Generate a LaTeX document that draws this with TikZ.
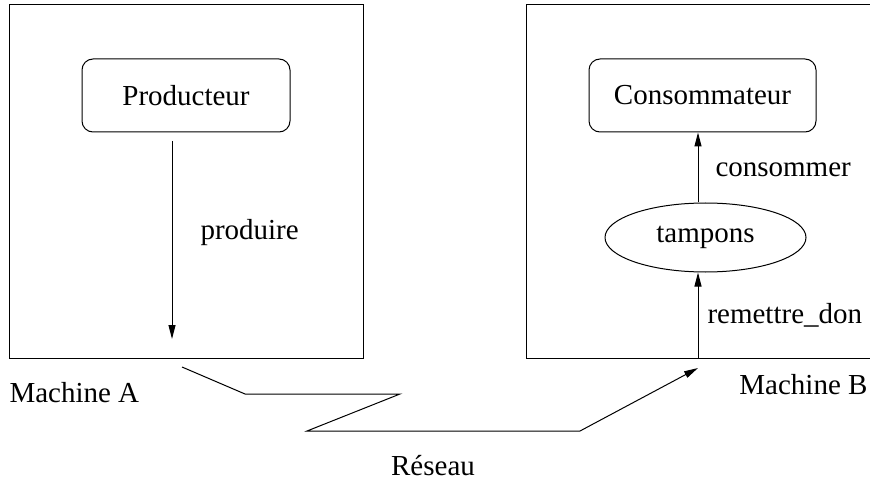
\documentclass[tikz,border=0pt]{standalone}
\usepackage{fontspec}
\setmainfont{Liberation Serif}
\usetikzlibrary{arrows.meta,shapes.geometric}
\begin{document}
\begin{tikzpicture}[x=1pt,y=-1pt,
  line width=1pt,
  every node/.style={font=\fontsize{29}{34}\selectfont},
  arr/.style={-{Triangle[length=14pt,width=7pt]}},
  proc/.style={draw,rectangle,rounded corners=11pt,minimum height=73pt,inner sep=0pt},
  lbl/.style={inner sep=0pt}]
\useasboundingbox (0,0) rectangle (870,481);
\clip (0,0) rectangle (870,481);

% the two machines
\draw (9,5) rectangle (363,358);
\draw (526,5) rectangle (900,358);

% processes
\node[proc,minimum width=208pt] (prod) at (186,95.5) {Producteur};
\node[proc,minimum width=227pt] (cons) at (702.5,95.5) {Consommateur};
\node[draw,ellipse,minimum width=201pt,minimum height=69pt,inner sep=0pt] (tamp) at (705.5,237.5) {tampons};

% arrow of the producer
\coordinate (pstart) at (172,141);
\coordinate (pend) at (172,339);
\draw[arr] (pstart) -- (pend);
\node[lbl,anchor=west] (produire) at (200,233) {produire};

% consumer side
\coordinate (col) at (698,0);
\coordinate (bin) at (698,358);
\draw[arr] (tamp.north -| col) -- (cons.south -| col);
\node[lbl,anchor=west] (consommer) at (715,170) {consommer};
\draw[arr] (bin) -- (tamp.south -| col);
\node[lbl,anchor=west] (remettre) at (707,315) {remettre\_don};

% machine names
\node[lbl,anchor=west] (machA) at (9,393) {Machine A};
\node[lbl,anchor=east] (machB) at (868,385) {Machine B};

% network link
\coordinate (n0) at (182,367);
\coordinate (n1) at (245,394);
\coordinate (n2) at (400,394);
\coordinate (n3) at (307,431);
\coordinate (n4) at (580,431);
\coordinate (n5) at (698,368);
\draw[arr] (n0) -- (n1) -- (n2) -- (n3) -- (n4) -- (n5);
\node[lbl] (reseau) at (433,466) {Réseau};
\end{tikzpicture}
\end{document}
